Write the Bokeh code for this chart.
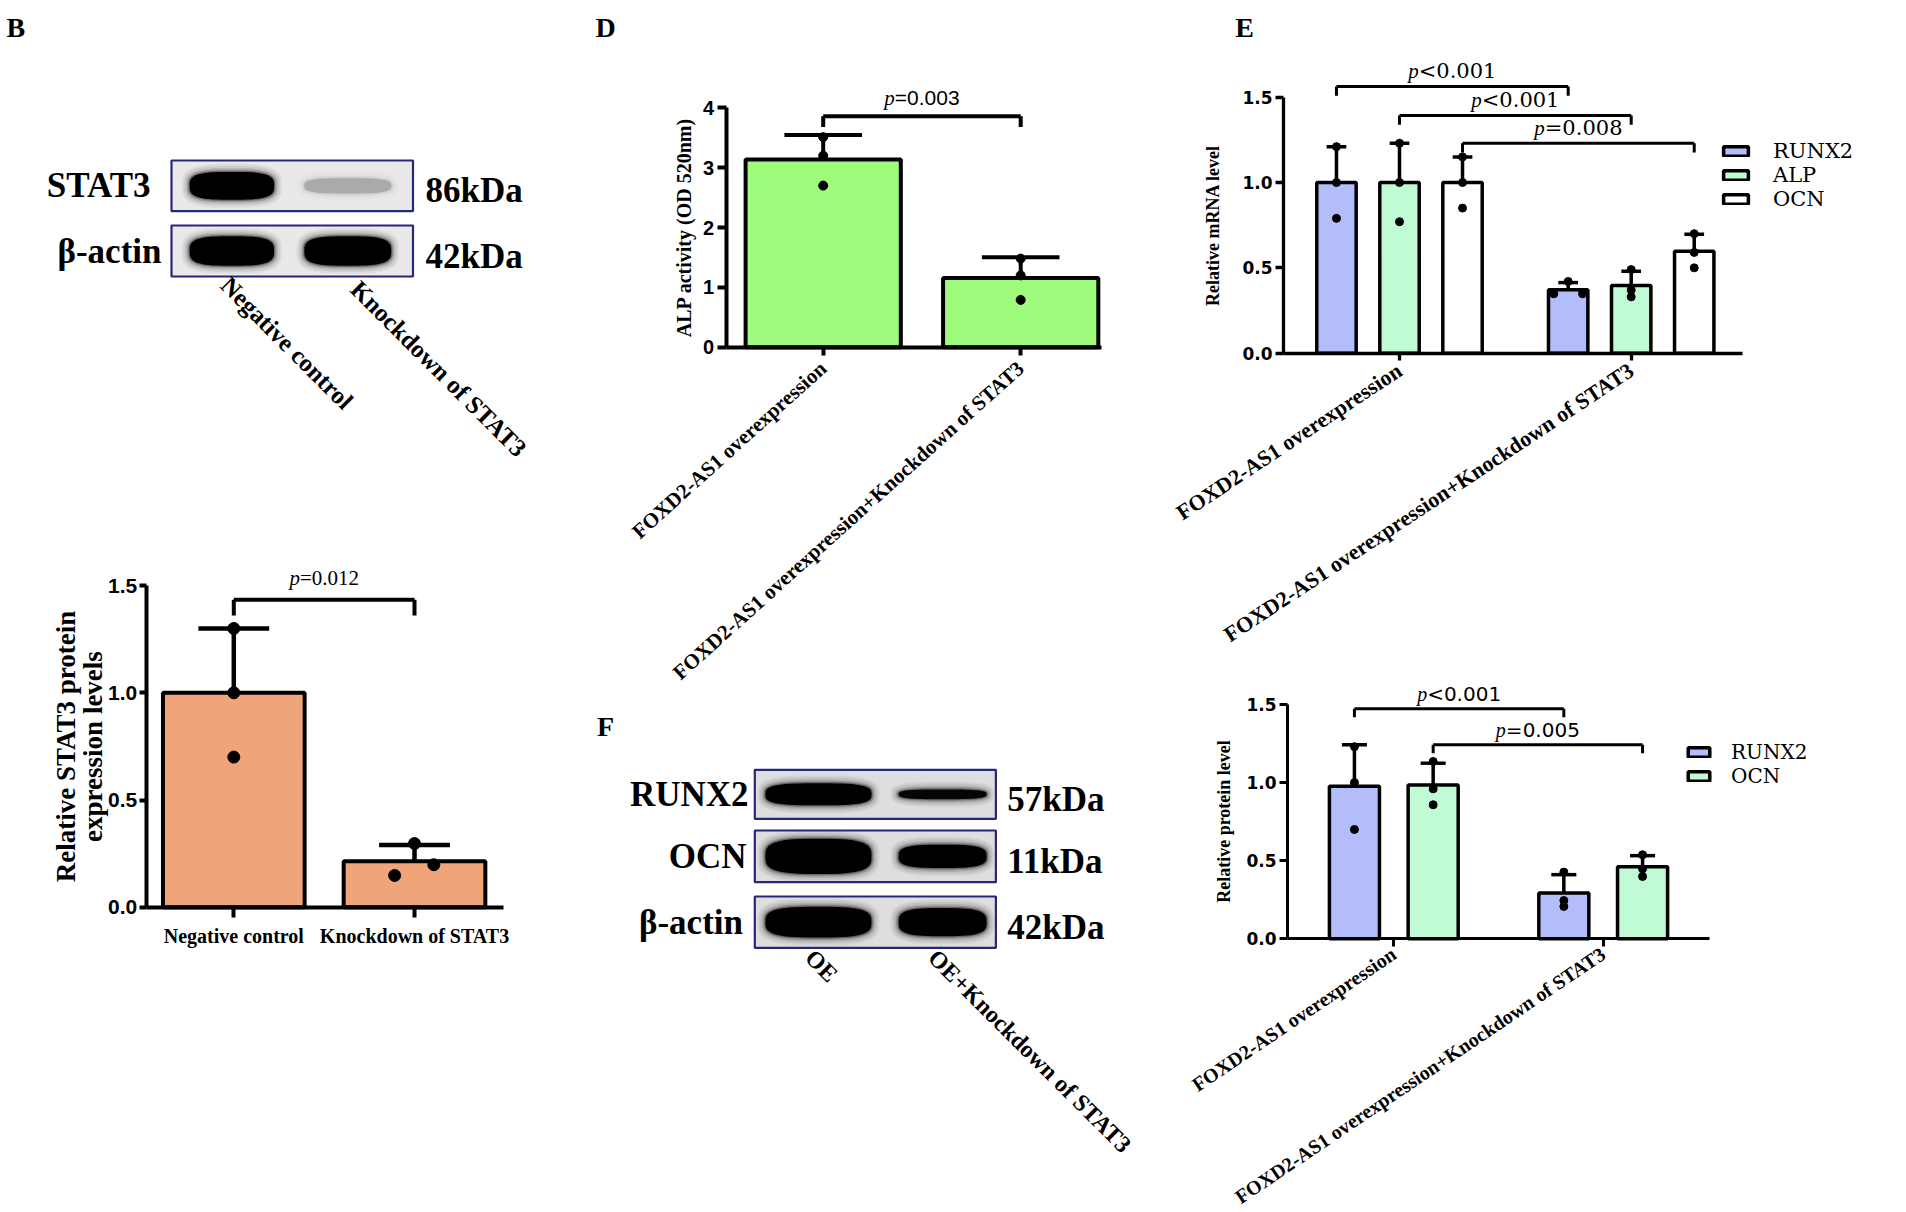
import numpy as np
from bokeh.plotting import figure
from bokeh.models import Range1d, FixedTicker, PrintfTickFormatter, Legend, LegendItem
from bokeh.layouts import row, column
from bokeh.core.properties import value
from bokeh.embed import file_html
from bokeh.resources import INLINE

SERIF = "Liberation Serif"
SANS = "Liberation Sans"
DSERIF = "DejaVu Serif"
DSANS = "DejaVu Sans"

# ---------------------------------------------------------------- data
# Panel B western blot (band darkness and relative band thickness per row / lane)
blot_b_rows = ["STAT3", "β-actin"]
blot_b_kda = ["86kDa", "42kDa"]
blot_b_lanes = ["Negative control", "Knockdown of STAT3"]
blot_b_intensity = [[1.0, 0.17], [1.0, 1.0]]
blot_b_thickness = [[0.55, 0.30], [0.58, 0.58]]

# Panel B bar chart
b_groups = ["Negative control", "Knockdown of STAT3"]
b_points = [[1.30, 1.00, 0.70], [0.297, 0.198, 0.148]]
b_p = "=0.012"

# Panel D
d_groups = ["FOXD2-AS1 overexpression", "FOXD2-AS1 overexpression+Knockdown of STAT3"]
d_points = [[3.51, 3.20, 2.70], [1.48, 1.20, 0.79]]
d_p = "=0.003"

# Panel E
e_groups = ["FOXD2-AS1 overexpression", "FOXD2-AS1 overexpression+Knockdown of STAT3"]
e_series = ["RUNX2", "ALP", "OCN"]
e_points = {
    "RUNX2": [[1.21, 1.00, 0.79], [0.42, 0.348, 0.348]],
    "ALP": [[1.23, 1.00, 0.77], [0.49, 0.37, 0.33]],
    "OCN": [[1.15, 1.00, 0.85], [0.70, 0.59, 0.50]],
}
e_p = ["<0.001", "<0.001", "=0.008"]

# Panel F western blot
blot_f_rows = ["RUNX2", "OCN", "β-actin"]
blot_f_kda = ["57kDa", "11kDa", "42kDa"]
blot_f_lanes = ["OE", "OE+Knockdown of STAT3"]
blot_f_intensity = [[1.0, 0.95], [1.0, 1.0], [1.0, 1.0]]
blot_f_thickness = [[0.45, 0.20], [0.68, 0.45], [0.60, 0.55]]

# Panel F bar chart
f_groups = ["FOXD2-AS1 overexpression", "FOXD2-AS1 overexpression+Knockdown of STAT3"]
f_series = ["RUNX2", "OCN"]
f_points = {
    "RUNX2": [[1.23, 1.00, 0.70], [0.427, 0.245, 0.207]],
    "OCN": [[1.135, 0.96, 0.858], [0.538, 0.448, 0.399]],
}
f_p = ["<0.001", "=0.005"]

# ---------------------------------------------------------------- styles
B_COLOR = "#EFA479"
D_COLOR = "#9EFB7C"
E_COLORS = ["#B3BDFA", "#C1FBD6", "#FFFFFF"]
F_COLORS = ["#B3BDFA", "#C1FBD6"]
BLOT_EDGE = "#27277A"


def make_chart(rect, gx0, sx, gy0, sy):
    L, R, T, B = rect
    p = figure(width=R - L, height=B - T,
               x_range=Range1d((L - gx0) / sx, (R - gx0) / sx),
               y_range=Range1d((gy0 - B) / sy, (gy0 - T) / sy),
               output_backend="svg", toolbar_location=None,
               min_border_left=0, min_border_right=0, min_border_top=0, min_border_bottom=0)
    p.outline_line_color = None
    p.xgrid.visible = False
    p.ygrid.visible = False
    p.background_fill_color = "white"
    p.border_fill_color = "white"
    return p


def style_axes(p, ax_x, xb, yb, yticks, yfmt, xlabels, ylab, cfg):
    xa = p.xaxis[0]
    ya = p.yaxis[0]
    xa.fixed_location = 0
    ya.fixed_location = ax_x
    xa.bounds = xb
    ya.bounds = yb
    xa.ticker = FixedTicker(ticks=[0, 1])
    ya.ticker = FixedTicker(ticks=yticks)
    ya.formatter = PrintfTickFormatter(format=yfmt)
    xa.major_label_overrides = {0: xlabels[0], 1: xlabels[1]}
    for a in (xa, ya):
        a.axis_line_width = cfg["lw"]
        a.axis_line_color = "black"
        a.major_tick_line_width = cfg["lw"]
        a.major_tick_line_color = "black"
        a.minor_tick_line_color = None
        a.major_tick_in = 0
        a.major_label_text_color = "black"
    ya.major_tick_out = cfg["ytick"]
    ya.major_label_standoff = cfg["ystand"]
    ya.major_label_text_font = cfg["yfont"]
    ya.major_label_text_font_style = "bold"
    ya.major_label_text_font_size = cfg["ysize"]
    ya.axis_label = ylab
    ya.axis_label_text_font = SERIF
    ya.axis_label_text_font_style = "bold"
    ya.axis_label_text_font_size = cfg["labsize"]
    ya.axis_label_text_line_height = cfg.get("lh", 1.0)
    ya.axis_label_standoff = cfg["labstand"]
    ya.axis_label_text_color = "black"
    xa.major_tick_out = cfg["xtick"]
    xa.major_label_standoff = cfg["xstand"]
    xa.major_label_text_font = SERIF
    xa.major_label_text_font_style = "bold"
    xa.major_label_text_font_size = cfg["xsize"]
    xa.major_label_orientation = cfg["orient"]


def ptext(p, x, y, text, font, size, style="normal", align="center", baseline="middle", angle=0.0):
    p.text(x=[x], y=[y], text=[text], text_font=value(font), text_font_size=value(f"{size}px"),
           text_font_style=value(style), text_align=value(align), text_baseline=value(baseline),
           angle=angle, text_color="black")


def pvalue(p, xc, y, rest, rest_font, size, p_em, rest_em, sx):
    wp = p_em * size
    wr = rest_em * size
    xj = xc + (wp - wr) / 2.0 / sx
    ptext(p, xj, y, "p", SERIF, size, "italic", "right", "middle")
    ptext(p, xj, y, rest, rest_font, size, "normal", "left", "middle")


def bracket(p, xa, xb, level, drop, lw):
    p.segment(x0=[xa, xa, xb], y0=[level, level, level], x1=[xb, xa, xb], y1=[level, drop, drop],
              line_color="black", line_width=lw)


def bars_with_points(p, xs, pts, width, color, lw, elw, dot, jitter=None):
    means = [float(np.mean(v)) for v in pts]
    sds = [float(np.std(v, ddof=1)) for v in pts]
    r = p.vbar(x=xs, width=width, top=means, bottom=0, fill_color=color,
               line_color="black", line_width=lw)
    tops = [m + s for m, s in zip(means, sds)]
    cw = width / 2.0
    p.segment(x0=xs, y0=means, x1=xs, y1=tops, line_color="black", line_width=elw)
    p.segment(x0=[x - cw / 2 for x in xs], y0=tops, x1=[x + cw / 2 for x in xs], y1=tops,
              line_color="black", line_width=elw)
    dx, dy = [], []
    for gi, (x, v) in enumerate(zip(xs, pts)):
        for k, val in enumerate(v):
            off = 0.0 if jitter is None else jitter[gi][k]
            dx.append(x + off)
            dy.append(val)
    p.scatter(x=dx, y=dy, size=dot, fill_color="black", line_color="black")
    return r


# ---------------------------------------------------------------- blots
def make_blot_fig(rect):
    L, R, T, B = rect
    p = figure(width=R - L, height=B - T, x_range=Range1d(L, R), y_range=Range1d(-B, -T),
               x_axis_type=None, y_axis_type=None, output_backend="svg",
               toolbar_location=None, min_border=0)
    p.outline_line_color = None
    p.background_fill_color = "white"
    p.border_fill_color = "white"
    return p


def superellipse(cx, cy, w, h, n=3.2, m=64):
    t = np.linspace(0, 2 * np.pi, m, endpoint=False)
    c, s = np.cos(t), np.sin(t)
    xs = cx + (w / 2) * np.sign(c) * np.abs(c) ** (2.0 / n)
    ys = cy + (h / 2) * np.sign(s) * np.abs(s) ** (2.0 / n)
    return list(xs), list(ys)


def draw_band(p, cx, cy, w, h, dark):
    for d, a in [(8, 0.05), (6, 0.07), (4, 0.10), (2.5, 0.16), (1.2, 0.3), (0, 1.0)]:
        xs, ys = superellipse(cx, cy, w + 2 * d, h + 2 * d)
        p.patch(x=xs, y=ys, fill_color="black", fill_alpha=a * dark, line_color=None)


def draw_blot(p, x0, x1, tops, heights, intens, thick, lane_fracs, lane_w, rows, lab_right,
              kdas, kda_left, fs, bg):
    for i in range(len(rows)):
        t = tops[i]
        b = t + heights[i]
        p.quad(left=[x0], right=[x1], top=[-t], bottom=[-b], fill_color=bg,
               line_color=None)
        cy = -(t + b) / 2.0
        for j, I in enumerate(intens[i]):
            cx = x0 + lane_fracs[j] * (x1 - x0)
            w = (x1 - x0) * lane_w[j]
            h = heights[i] * thick[i][j]
            draw_band(p, cx, cy, w, h, I)
        p.quad(left=[x0], right=[x1], top=[-t], bottom=[-b], fill_color=None,
               line_color=BLOT_EDGE, line_width=2.2)
        ptext(p, lab_right[i], cy, rows[i], SERIF, fs, "bold", "right", "middle")
        ptext(p, kda_left, cy - 5, kdas[i], SERIF, fs, "bold", "left", "middle")


# Panel B blot
pBb = make_blot_fig((0, 580, 0, 540))
ptext(pBb, 6, -27, "B", SERIF, 28, "bold", "left", "middle")
draw_blot(pBb, 171, 412.5, [160, 225], [50.7, 51.0], blot_b_intensity, blot_b_thickness,
          [0.25, 0.73], [0.35, 0.36], blot_b_rows, [150, 161], blot_b_kda, 425, 35, "#E9E9E9")
for lx, ly, lab in zip([234, 364], [-271, -275], blot_b_lanes):
    ptext(pBb, lx, ly, lab, SERIF, 25, "bold", "left", "top", angle=-np.pi / 4)

# Panel B chart
B_GX, B_SX, B_GY, B_SY = 233.3, 180.7, 906.7, 214.4
pB = make_chart((0, 580, 540, 1210), B_GX, B_SX, B_GY, B_SY)
style_axes(pB, -0.485, (-0.485, 1.494), (0, 1.5), [0, 0.5, 1.0, 1.5], "%.1f", b_groups,
           "Relative STAT3 protein\nexpression levels",
           dict(lw=4, ytick=7, ystand=2, yfont=SANS, ysize="21px", labsize="27px", lh=0.9,
                labstand=-3, xtick=10, xstand=8, xsize="20px", orient="horizontal"))
bars_with_points(pB, [0, 1], b_points, 0.784, B_COLOR, 4, 4.5, 12,
                 jitter=[[0, 0, 0], [0, 0.107, -0.11]])
bracket(pB, 0, 1, 1.434, 1.36, 4)
pvalue(pB, 0.5, 1.434 + 22 / B_SY, b_p, SERIF, 21, 0.5, 2.81, B_SX)

# Panel D chart
D_GX, D_SX, D_GY, D_SY = 822.7, 197.5, 346.7, 59.85
pD = make_chart((580, 1160, 0, 700), D_GX, D_SX, D_GY, D_SY)
style_axes(pD, -0.491, (-0.491, 1.41), (0, 4), [0, 1, 2, 3, 4], "%d", d_groups,
           "ALP activity (OD 520nm)",
           dict(lw=4, ytick=9, ystand=3, yfont=SANS, ysize="20px", labsize="20px",
                labstand=5, xtick=8, xstand=10, xsize="21px", orient=0.733))
ptext(pD, (605 - D_GX) / D_SX, (D_GY - 27) / D_SY, "D", SERIF, 28, "bold", "center", "middle")
bars_with_points(pD, [0, 1], d_points, 0.786, D_COLOR, 4, 4, 9)
bracket(pD, 0, 1, 3.86, 3.68, 4)
pvalue(pD, 0.5, 3.86 + 18.6 / D_SY, d_p, SANS, 21, 0.5, 3.086, D_SX)

# Panel F blot
pFb = make_blot_fig((580, 1160, 700, 1210))
ptext(pFb, 605, -726, "F", SERIF, 28, "bold", "center", "middle")
draw_blot(pFb, 754.3, 995.4, [769.3, 830, 896], [49, 51.7, 51.3], blot_f_intensity,
          blot_f_thickness, [0.264, 0.779], [0.44, 0.365], blot_f_rows, [748, 746, 742.5],
          blot_f_kda, 1006.8, 35, "#DEDEDE")
for lx, ly, lab in zip([818, 941], [-944, -944], blot_f_lanes):
    ptext(pFb, lx, ly, lab, SERIF, 24, "bold", "left", "top", angle=-np.pi / 4)

# Panel E chart
E_GX, E_SX, E_GY, E_SY = 1399.0, 231.7, 352.7, 170.7
pE = make_chart((1160, 1904, 0, 660), E_GX, E_SX, E_GY, E_SY)
style_axes(pE, -0.50, (-0.50, 1.48), (0, 1.5), [0, 0.5, 1.0, 1.5], "%.1f", e_groups,
           "Relative mRNA level",
           dict(lw=3.3, ytick=8, ystand=3, yfont=DSANS, ysize="17px", labsize="18px",
                labstand=16, xtick=7, xstand=8, xsize="22px", orient=0.585))
ptext(pE, (1244 - E_GX) / E_SX, (E_GY - 27) / E_SY, "E", SERIF, 28, "bold", "center", "middle")
e_off = [-0.272, 0.0, 0.272]
e_items = []
for k, s in enumerate(e_series):
    jit = [[0, 0, 0], [0, -0.062, 0.062]] if s == "RUNX2" else None
    r = bars_with_points(pE, [0 + e_off[k], 1 + e_off[k]], e_points[s], 0.17, E_COLORS[k],
                         3.5, 3.5, 8, jitter=jit)
    e_items.append(LegendItem(label=s, renderers=[r]))
e_levels = [1.562, 1.392, 1.23]
for k in range(3):
    xa, xb = 0 + e_off[k], 1 + e_off[k]
    bracket(pE, xa, xb, e_levels[k], e_levels[k] - 0.054, 3)
    pvalue(pE, (xa + xb) / 2, e_levels[k] + 15.5 / E_SY, e_p[k], DSERIF, 21, 0.5, 3.70, E_SX)
legE = Legend(items=e_items, location=(560, 449), orientation="vertical",
              glyph_width=31, glyph_height=12, label_standoff=22, spacing=0, padding=0,
              margin=0, border_line_color=None, background_fill_alpha=0,
              label_text_font=DSERIF, label_text_font_size="21px", label_text_color="black")
pE.add_layout(legE)

# Panel F chart
F_GX, F_SX, F_GY, F_SY = 1393.3, 209.4, 938.3, 156.2
pF = make_chart((1160, 1904, 660, 1210), F_GX, F_SX, F_GY, F_SY)
style_axes(pF, -0.507, (-0.507, 1.51), (0, 1.5), [0, 0.5, 1.0, 1.5], "%.1f", f_groups,
           "Relative protein level",
           dict(lw=3, ytick=8, ystand=3, yfont=DSANS, ysize="17px", labsize="18px",
                labstand=9, xtick=8, xstand=5, xsize="20px", orient=0.593))
f_off = [-0.188, 0.188]
f_items = []
for k, s in enumerate(f_series):
    r = bars_with_points(pF, [0 + f_off[k], 1 + f_off[k]], f_points[s], 0.239, F_COLORS[k],
                         3.5, 3.5, 8)
    f_items.append(LegendItem(label=s, renderers=[r]))
f_levels = [1.472, 1.242]
for k in range(2):
    xa, xb = 0 + f_off[k], 1 + f_off[k]
    bracket(pF, xa, xb, f_levels[k], f_levels[k] - 0.054, 3)
    pvalue(pF, (xa + xb) / 2, f_levels[k] + 14.4 / F_SY, f_p[k], DSANS, 20, 0.5, 3.70, F_SX)
legF = Legend(items=f_items, location=(525, 422), orientation="vertical",
              glyph_width=27, glyph_height=12, label_standoff=19, spacing=0, padding=0,
              margin=0, border_line_color=None, background_fill_alpha=0,
              label_text_font=DSERIF, label_text_font_size="20px", label_text_color="black")
pF.add_layout(legF)

layout = row(column(pBb, pB), column(pD, pFb), column(pE, pF))
open("out.html", "w").write(file_html(layout, INLINE))
